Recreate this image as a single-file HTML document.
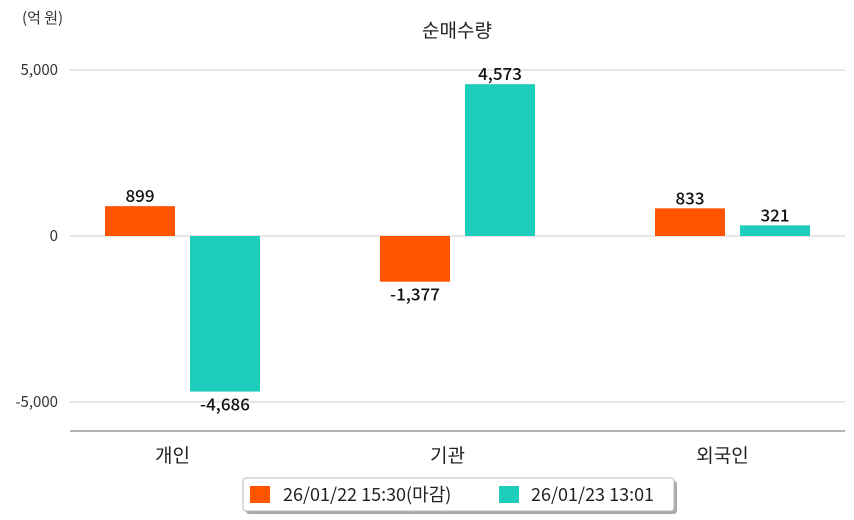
<!DOCTYPE html>
<html><head><meta charset="utf-8"><style>
body{margin:0;background:#fff;}
svg{display:block;font-family:"Noto Sans CJK KR","Liberation Sans",sans-serif;}
</style></head><body>
<svg id="chart" width="854" height="520" viewBox="0 0 854 520">
<text x="22" y="23" font-size="15" fill="#333">(억 원)</text>
<text x="457" y="37" font-size="19" fill="#222" text-anchor="middle">순매수량</text>
<g id="grid"></g><g id="bars"></g><g id="labels"></g>
<line x1="70" y1="431" x2="845" y2="431" stroke="#888" stroke-width="1.2"/>
<g>
<rect x="246" y="481" width="431" height="33" rx="3" fill="#aaa"/>
<rect x="243" y="478" width="431" height="33" rx="3" fill="#fff" stroke="#bbb"/>
<rect x="250" y="486" width="20" height="17" fill="#ff5500"/>
<text x="283" y="501" font-size="18" fill="#222">26/01/22 15:30(마감)</text>
<rect x="499" y="486" width="20" height="17" fill="#1ecdbb"/>
<text x="531" y="501" font-size="18" fill="#222">26/01/23 13:01</text>
</g>
</svg>
<script>
const categories=["개인","기관","외국인"];
const series1=[899,-1377,833];
const series2=[-4686,4573,321];
const ticks=[5000,0,-5000];
const tickLabels=["5,000","0","-5,000"];
const NS="http://www.w3.org/2000/svg";
const y=v=>236-v*166/5000;
const cx=i=>182.5+i*275;
function mk(t,a,p){const e=document.createElementNS(NS,t);for(const k in a)e.setAttribute(k,a[k]);p.appendChild(e);return e;}
const g=document.getElementById('grid'),b=document.getElementById('bars'),l=document.getElementById('labels');
ticks.forEach((t,i)=>{
 const ln=mk('line',{x1:70,x2:845,y1:y(t),y2:y(t),stroke:'#ccc','stroke-width':1},g);
 
 
 const tx=mk('text',{x:58,y:y(t)+5,'font-size':15,fill:'#333','text-anchor':'end'},g);
 tx.textContent=tickLabels[i];
 
 
});
const fmt=v=>v.toLocaleString('en-US');
categories.forEach((c,i)=>{
 [[series1,'#ff5500',-77.5],[series2,'#1ecdbb',7.5]].forEach(([s,col,off],j)=>{
  const v=s[i];const x=cx(i)+off;
  const r=mk('rect',{x:x,y:Math.min(y(v),y(0)),width:70,height:Math.abs(y(v)-y(0)),fill:col},b);
  
  
  const ty=v>=0?y(v)-4:y(v)+19;
  const t=mk('text',{x:x+35,y:ty,'font-size':17,'font-weight':500,fill:'#111','text-anchor':'middle'},l);
  t.textContent=fmt(v);
  
  
 });
 const ct=mk('text',{x:cx(i)-10,y:462,'font-size':19,fill:'#222','text-anchor':'middle'},l);
 ct.textContent=c;
 
 
});
</script>
</body></html>
